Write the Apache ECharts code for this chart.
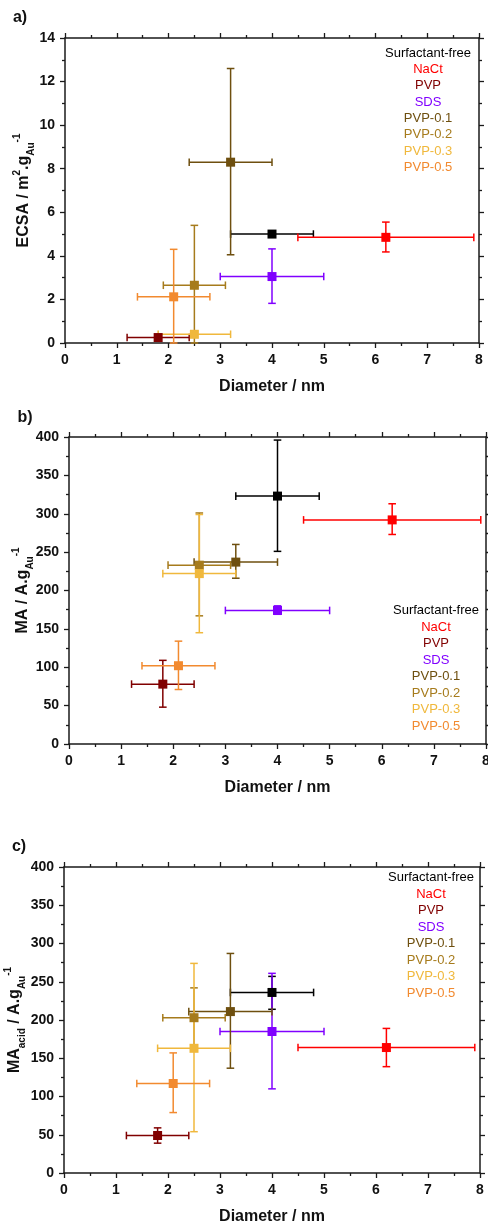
<!DOCTYPE html>
<html>
<head>
<meta charset="utf-8">
<script src="https://cdn.jsdelivr.net/npm/echarts@6/dist/echarts.min.js"></script>
<style>
html,body{margin:0;padding:0;background:#fff;}
#chart{width:488px;height:1221px;}
</style>
</head>
<body>
<div id="chart"></div>
<script>
// ---- data ----
const groups = ['Surfactant-free', 'NaCt', 'PVP', 'SDS', 'PVP-0.1', 'PVP-0.2', 'PVP-0.3', 'PVP-0.5'];
const groupColors = ['#000000', '#ff0000', '#800000', '#8000ff', '#6e4f0f', '#a67b1c', '#f0b83c', '#f28a2f'];

const diameter     = [4.0, 6.2, 1.8, 4.0, 3.2, 2.5, 2.5, 2.1];
const diameterLow  = [3.2, 4.5, 1.2, 3.0, 2.4, 1.9, 1.8, 1.4];
const diameterHigh = [4.8, 7.9, 2.4, 5.0, 4.0, 3.1, 3.2, 2.8];

const ecsa     = [5.0, 4.85, 0.25, 3.05, 8.3, 2.65, 0.4, 2.12];
const ecsaLow  = [5.0, 4.18, 0.25, 1.82, 4.05, 0.0, 0.4, 0.0];
const ecsaHigh = [5.0, 5.55, 0.25, 4.32, 12.6, 5.4, 0.4, 4.3];

const ma     = [323, 292, 78, 174, 237, 233, 222, 102];
const maLow  = [251, 273, 48, 169, 216, 167, 145, 71];
const maHigh = [396, 313, 109, 180, 260, 301, 299, 134];

const maAcid     = [236, 164, 49, 185, 211, 203, 163, 117];
const maAcidLow  = [214, 139, 39, 110, 137, 165, 54, 79];
const maAcidHigh = [257, 189, 59, 261, 287, 242, 274, 157];

const xTicks = {min: 0, max: 8, interval: 1};
const panelLabels = ['a)', 'b)', 'c)'];
const xTitle = 'Diameter / nm';
const yTitles = [
  '{b|ECSA / m}{sup|2}{b|.g}{sub|Au}{sup|-1}',
  '{b|MA / A.g}{sub|Au}{sup|-1}',
  '{b|MA}{sub|acid}{b| / A.g}{sub|Au}{sup|-1}'
];
const yScales = [
  {min: 0, max: 14, interval: 2},
  {min: 0, max: 400, interval: 50},
  {min: 0, max: 400, interval: 50}
];
const panelY = [[ecsa, ecsaLow, ecsaHigh], [ma, maLow, maHigh], [maAcid, maAcidLow, maAcidHigh]];

// ---- layout ----
const FONT = 'Liberation Sans, Arial, sans-serif';
const grids = [
  {left: 65, top: 38, width: 414, height: 305},
  {left: 69, top: 437, width: 417, height: 307},
  {left: 64, top: 867, width: 416, height: 306}
];
const yNameGaps = [29, 34, 37];
const legendPos = [
  {x: 428, y: 53.3, dy: 16.3},
  {x: 436, y: 610.5, dy: 16.5},
  {x: 431, y: 877.7, dy: 16.5}
];
const labelPos = [{x: 20, y: 18}, {x: 25, y: 418}, {x: 19, y: 847}];

const axisLineStyle = {color: '#1a1a1a', width: 1.5};
const tickStyle = {color: '#1a1a1a', width: 1.3};

const xAxes = [], yAxes = [], series = [], graphics = [];

grids.forEach((g, gi) => {
  const common = {
    gridIndex: gi,
    axisLine: {show: true, onZero: false, lineStyle: axisLineStyle},
    axisTick: {show: true, inside: false, length: 5, lineStyle: tickStyle},
    minorTick: {show: true, splitNumber: 2, length: 3, lineStyle: tickStyle},
    splitLine: {show: false},
    nameMoveOverlap: false
  };
  xAxes.push(Object.assign({}, common, {
    type: 'value', position: 'bottom', min: xTicks.min, max: xTicks.max, interval: xTicks.interval,
    axisLabel: {show: true, margin: 10, fontFamily: FONT, fontWeight: 'bold', fontSize: 14, color: '#111'},
    name: xTitle, nameLocation: 'middle', nameGap: 35,
    nameTextStyle: {fontFamily: FONT, fontWeight: 'bold', fontSize: 16, color: '#111', lineHeight: 18}
  }));
  xAxes.push(Object.assign({}, common, {
    type: 'value', position: 'top', min: xTicks.min, max: xTicks.max, interval: xTicks.interval,
    axisLabel: {show: false}
  }));
  const ys = yScales[gi];
  yAxes.push(Object.assign({}, common, {
    type: 'value', position: 'left', min: ys.min, max: ys.max, interval: ys.interval,
    axisLabel: {show: true, margin: 10, fontFamily: FONT, fontWeight: 'bold', fontSize: 14, color: '#111'},
    name: yTitles[gi], nameLocation: 'middle', nameGap: yNameGaps[gi], nameRotate: 90,
    nameTextStyle: {
      fontFamily: FONT, color: '#111',
      rich: {
        b: {fontFamily: FONT, fontWeight: 'bold', fontSize: 16, lineHeight: 24, color: '#111'},
        sup: {fontFamily: FONT, fontWeight: 'bold', fontSize: 10, lineHeight: 12, verticalAlign: 'top', color: '#111'},
        sub: {fontFamily: FONT, fontWeight: 'bold', fontSize: 10, lineHeight: 12, verticalAlign: 'bottom', color: '#111'}
      }
    }
  }));
  yAxes.push(Object.assign({}, common, {
    type: 'value', position: 'right', min: ys.min, max: ys.max, interval: ys.interval,
    axisLabel: {show: false}
  }));

  const [yv, yl, yh] = panelY[gi];
  groups.forEach((name, k) => {
    const color = groupColors[k];
    series.push({
      type: 'custom', name: name,
      xAxisIndex: 2 * gi, yAxisIndex: 2 * gi,
      data: [[diameter[k], yv[k], diameterLow[k], diameterHigh[k], yl[k], yh[k]]],
      encode: {x: 0, y: 1},
      z: 2,
      silent: true,
      renderItem: function (params, api) {
        const x = api.value(0), y = api.value(1);
        const xl = api.value(2), xh = api.value(3), ylo = api.value(4), yhi = api.value(5);
        const pL = api.coord([xl, y]), pR = api.coord([xh, y]);
        const pB = api.coord([x, ylo]), pT = api.coord([x, yhi]);
        const cap = 3.8;
        const st = {stroke: color, lineWidth: 1.5, fill: null};
        const seg = (x1, y1, x2, y2) => ({type: 'line', shape: {x1, y1, x2, y2}, style: st});
        const children = [
          seg(pL[0], pL[1], pR[0], pR[1]),
          seg(pL[0], pL[1] - cap, pL[0], pL[1] + cap),
          seg(pR[0], pR[1] - cap, pR[0], pR[1] + cap)
        ];
        if (Math.abs(pT[1] - pB[1]) > 1) {
          children.push(seg(pB[0], pB[1], pT[0], pT[1]));
          children.push(seg(pB[0] - cap, pB[1], pB[0] + cap, pB[1]));
          children.push(seg(pT[0] - cap, pT[1], pT[0] + cap, pT[1]));
        }
        return {type: 'group', children: children};
      }
    });
    series.push({
      type: 'scatter', name: name,
      xAxisIndex: 2 * gi, yAxisIndex: 2 * gi,
      data: [[diameter[k], yv[k]]],
      symbol: 'rect', symbolSize: 9,
      itemStyle: {color: color, opacity: 1},
      z: 3,
      silent: true
    });
  });

  // legend text list
  const lp = legendPos[gi];
  groups.forEach((name, k) => {
    graphics.push({
      type: 'text', x: lp.x, y: lp.y + k * lp.dy,
      style: {text: name, fill: groupColors[k], font: '13px ' + FONT, textAlign: 'center', textVerticalAlign: 'middle'},
      silent: true
    });
  });
  // panel label
  graphics.push({
    type: 'text', x: labelPos[gi].x, y: labelPos[gi].y,
    style: {text: panelLabels[gi], fill: '#111', font: 'bold 16px ' + FONT, textAlign: 'center', textVerticalAlign: 'middle'},
    silent: true
  });
});

const chart = echarts.init(document.getElementById('chart'), null, {renderer: 'canvas'});
chart.setOption({
  animation: false,
  backgroundColor: '#ffffff',
  grid: grids.map(g => Object.assign({containLabel: false, outerBoundsMode: 'none'}, g)),
  xAxis: xAxes,
  yAxis: yAxes,
  series: series,
  graphic: graphics
});
</script>
</body>
</html>
